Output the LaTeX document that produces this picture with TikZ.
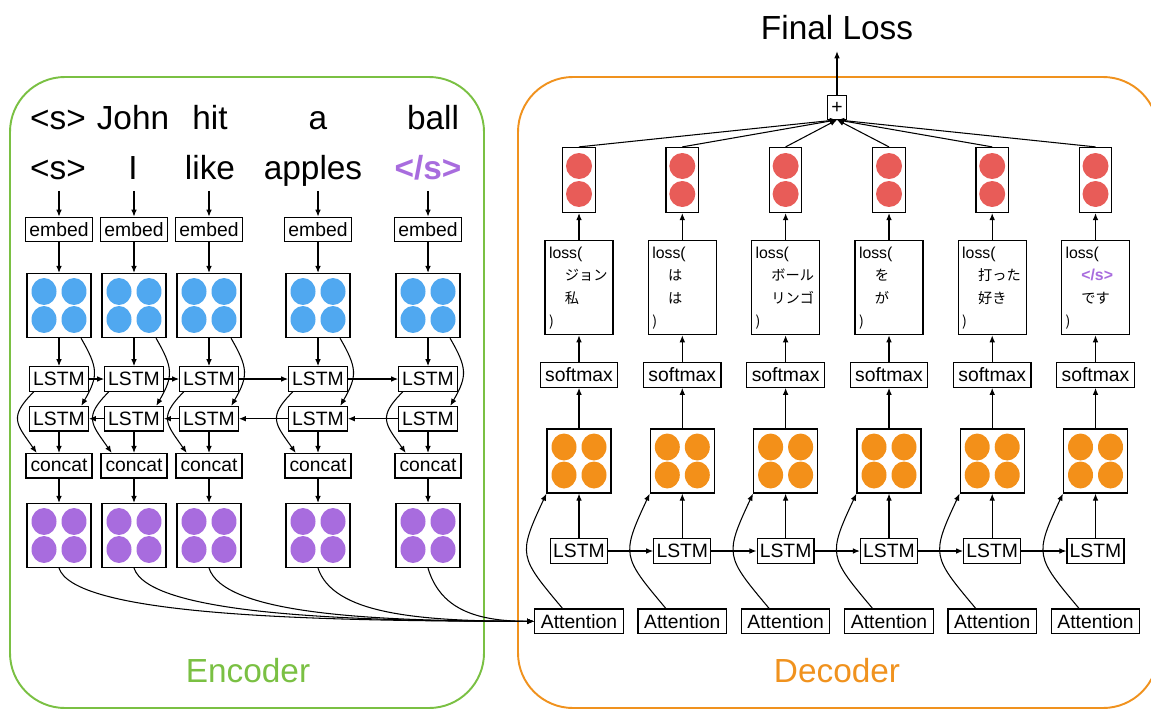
\documentclass[tikz,border=0pt]{standalone}
\usepackage{fontspec}
\setmainfont{Liberation Sans}
\newfontfamily\jpfont[Scale=0.9]{Noto Sans CJK JP}
\usetikzlibrary{arrows.meta}
\definecolor{enccol}{RGB}{122,192,67}
\definecolor{deccol}{RGB}{240,146,30}
\definecolor{purp}{RGB}{168,108,222}
\definecolor{bluedot}{RGB}{80,168,240}
\definecolor{orangedot}{RGB}{243,144,25}
\definecolor{reddot}{RGB}{232,92,88}
\newcommand{\losstext}[2]{loss(\\\hspace*{9pt}#1\\\hspace*{9pt}#2\\)}
\tikzset{
  word/.style={font=\fontsize{19}{22}\selectfont, inner sep=0pt, anchor=base, text depth=6.5pt},
  blk/.style={draw, line width=0.7pt, inner sep=1pt, font=\fontsize{11}{13}\selectfont,
    minimum height=0.49cm, minimum width=#1},
  blk/.default=1cm,
  quad/.style={draw, line width=0.7pt, minimum width=1.28cm, minimum height=1.28cm,
    path picture={
      \fill[#1] ([shift={(-0.3cm,0.28cm)}]path picture bounding box.center) ellipse [x radius=0.25cm, y radius=0.27cm];
      \fill[#1] ([shift={(0.3cm,0.28cm)}]path picture bounding box.center) ellipse [x radius=0.25cm, y radius=0.27cm];
      \fill[#1] ([shift={(-0.3cm,-0.28cm)}]path picture bounding box.center) ellipse [x radius=0.25cm, y radius=0.27cm];
      \fill[#1] ([shift={(0.3cm,-0.28cm)}]path picture bounding box.center) ellipse [x radius=0.25cm, y radius=0.27cm];}},
  pair/.style={draw, line width=0.7pt, minimum width=0.65cm, minimum height=1.3cm,
    path picture={
      \fill[reddot] ([yshift=0.28cm]path picture bounding box.center) circle [radius=0.26cm];
      \fill[reddot] ([yshift=-0.28cm]path picture bounding box.center) circle [radius=0.26cm];}},
  lossbox/.style={draw, line width=0.7pt, align=left, text width=1.2cm, inner xsep=0.08cm,
    minimum height=1.8cm, font=\fontsize{9}{12.9}\selectfont},
}
\begin{document}
\begin{tikzpicture}[x=0.02cm, y=0.02cm, >={Latex[length=4pt,width=3.2pt]}, line width=0.6pt]
  \useasboundingbox (0,0) rectangle (1151,-710);
  % frames
  \draw[enccol, line width=1.1pt, rounded corners=1.1cm] (10,-77) rectangle (484,-708);
  \draw[deccol, line width=1.1pt, rounded corners=1.1cm] (518,-77) rectangle (1158,-708);
  \draw
    (248,-682.7) node[word, text=enccol] (enc) {Encoder}
    (837,-682.7) node[word, text=deccol] (dec) {Decoder}
    (837,-39.3) node[word] (final) {Final Loss};
  % encoder
  \draw
    (58,-129) node[word] (wa1) {<s>}
    (133,-129) node[word] (wa2) {John}
    (210,-129) node[word] (wa3) {hit}
    (318,-129) node[word] (wa4) {a}
    (433,-129) node[word] (wa5) {ball}
    (58,-179) node[word] (wb1) {<s>}
    (133,-179) node[word] (wb2) {I}
    (210,-179) node[word] (wb3) {like}
    (313,-179) node[word] (wb4) {apples}
    (428,-179) node[word, text=purp, font=\fontsize{19}{22}\selectfont\bfseries] (wb5) {</s>};
  \draw
    (59,-229.5) node[blk=1.33cm] (emb1) {embed}
    (134,-229.5) node[blk=1.33cm] (emb2) {embed}
    (209,-229.5) node[blk=1.33cm] (emb3) {embed}
    (318,-229.5) node[blk=1.33cm] (emb4) {embed}
    (428,-229.5) node[blk=1.33cm] (emb5) {embed}
    (59,-305.5) node[quad=bluedot] (vec1) {}
    (134,-305.5) node[quad=bluedot] (vec2) {}
    (209,-305.5) node[quad=bluedot] (vec3) {}
    (318,-305.5) node[quad=bluedot] (vec4) {}
    (428,-305.5) node[quad=bluedot] (vec5) {}
    (59,-379) node[blk=1.17cm] (fw1) {LSTM}
    (134,-379) node[blk=1.17cm] (fw2) {LSTM}
    (209,-379) node[blk=1.17cm] (fw3) {LSTM}
    (318,-379) node[blk=1.17cm] (fw4) {LSTM}
    (428,-379) node[blk=1.17cm] (fw5) {LSTM}
    (59,-418.7) node[blk=1.17cm] (bw1) {LSTM}
    (134,-418.7) node[blk=1.17cm] (bw2) {LSTM}
    (209,-418.7) node[blk=1.17cm] (bw3) {LSTM}
    (318,-418.7) node[blk=1.17cm] (bw4) {LSTM}
    (428,-418.7) node[blk=1.17cm] (bw5) {LSTM}
    (59,-465.8) node[blk=1.32cm] (cat1) {concat}
    (134,-465.8) node[blk=1.32cm] (cat2) {concat}
    (209,-465.8) node[blk=1.32cm] (cat3) {concat}
    (318,-465.8) node[blk=1.32cm] (cat4) {concat}
    (428,-465.8) node[blk=1.32cm] (cat5) {concat}
    (59,-535.5) node[quad=purp] (hid1) {}
    (134,-535.5) node[quad=purp] (hid2) {}
    (209,-535.5) node[quad=purp] (hid3) {}
    (318,-535.5) node[quad=purp] (hid4) {}
    (428,-535.5) node[quad=purp] (hid5) {};
  % decoder
  \draw
    (837,-107.5) node[blk=0.38cm, minimum height=0.47cm, inner sep=0pt] (plus) {+}
    (579,-180) node[pair] (prob1) {}
    (682.3,-180) node[pair] (prob2) {}
    (785.6,-180) node[pair] (prob3) {}
    (889,-180) node[pair] (prob4) {}
    (992.2,-180) node[pair] (prob5) {}
    (1095.5,-180) node[pair] (prob6) {}
    (579,-287.7) node[lossbox] (loss1) {\losstext{\jpfont ジョン}{\jpfont 私}}
    (682.3,-287.7) node[lossbox] (loss2) {\losstext{\jpfont は}{\jpfont は}}
    (785.6,-287.7) node[lossbox] (loss3) {\losstext{\jpfont ボール}{\jpfont リンゴ}}
    (889,-287.7) node[lossbox] (loss4) {\losstext{\jpfont を}{\jpfont が}}
    (992.2,-287.7) node[lossbox] (loss5) {\losstext{\jpfont 打った}{\jpfont 好き}}
    (1095.5,-287.7) node[lossbox] (loss6) {\losstext{\textcolor{purp}{\bfseries </s>}}{\jpfont です}}
    (579,-375) node[blk=1.55cm] (sm1) {softmax}
    (682.3,-375) node[blk=1.55cm] (sm2) {softmax}
    (785.6,-375) node[blk=1.55cm] (sm3) {softmax}
    (889,-375) node[blk=1.55cm] (sm4) {softmax}
    (992.2,-375) node[blk=1.55cm] (sm5) {softmax}
    (1095.5,-375) node[blk=1.55cm] (sm6) {softmax}
    (579,-461) node[quad=orangedot] (out1) {}
    (682.3,-461) node[quad=orangedot] (out2) {}
    (785.6,-461) node[quad=orangedot] (out3) {}
    (889,-461) node[quad=orangedot] (out4) {}
    (992.2,-461) node[quad=orangedot] (out5) {}
    (1095.5,-461) node[quad=orangedot] (out6) {}
    (579,-551) node[blk=1.14cm] (dl1) {LSTM}
    (682.3,-551) node[blk=1.14cm] (dl2) {LSTM}
    (785.6,-551) node[blk=1.14cm] (dl3) {LSTM}
    (889,-551) node[blk=1.14cm] (dl4) {LSTM}
    (992.2,-551) node[blk=1.14cm] (dl5) {LSTM}
    (1095.5,-551) node[blk=1.14cm] (dl6) {LSTM}
    (579,-621.3) node[blk=1.77cm] (att1) {Attention}
    (682.3,-621.3) node[blk=1.77cm] (att2) {Attention}
    (785.6,-621.3) node[blk=1.77cm] (att3) {Attention}
    (889,-621.3) node[blk=1.77cm] (att4) {Attention}
    (992.2,-621.3) node[blk=1.77cm] (att5) {Attention}
    (1095.5,-621.3) node[blk=1.77cm] (att6) {Attention};
  \begin{scope}[->]
    \draw (wb1.south -| emb1) to (emb1);
    \draw (wb2.south -| emb2) to (emb2);
    \draw (wb3.south -| emb3) to (emb3);
    \draw (wb4.south -| emb4) to (emb4);
    \draw (wb5.south -| emb5) to (emb5);
    \draw (emb1) to (vec1);
    \draw (emb2) to (vec2);
    \draw (emb3) to (vec3);
    \draw (emb4) to (vec4);
    \draw (emb5) to (vec5);
    \draw (vec1) to (fw1);
    \draw (vec2) to (fw2);
    \draw (vec3) to (fw3);
    \draw (vec4) to (fw4);
    \draw (vec5) to (fw5);
    \draw (vec1.-56) to[out=-60, in=60, looseness=1.3] (bw1.30);
    \draw (vec2.-56) to[out=-60, in=60, looseness=1.3] (bw2.30);
    \draw (vec3.-56) to[out=-60, in=60, looseness=1.3] (bw3.30);
    \draw (vec4.-56) to[out=-60, in=60, looseness=1.3] (bw4.30);
    \draw (vec5.-56) to[out=-60, in=60, looseness=1.3] (bw5.30);
    \draw (fw1) to (fw2);
    \draw (fw2) to (fw3);
    \draw (fw3) to (fw4);
    \draw (fw4) to (fw5);
    \draw (bw5) to (bw4);
    \draw (bw4) to (bw3);
    \draw (bw3) to (bw2);
    \draw (bw2) to (bw1);
    \draw (fw1.207) to[out=-135, in=125, looseness=1.5] (cat1.150);
    \draw (fw2.207) to[out=-135, in=125, looseness=1.5] (cat2.150);
    \draw (fw3.207) to[out=-135, in=125, looseness=1.5] (cat3.150);
    \draw (fw4.207) to[out=-135, in=125, looseness=1.5] (cat4.150);
    \draw (fw5.207) to[out=-135, in=125, looseness=1.5] (cat5.150);
    \draw (bw1) to (cat1);
    \draw (bw2) to (cat2);
    \draw (bw3) to (cat3);
    \draw (bw4) to (cat4);
    \draw (bw5) to (cat5);
    \draw (cat1) to (hid1);
    \draw (cat2) to (hid2);
    \draw (cat3) to (hid3);
    \draw (cat4) to (hid4);
    \draw (cat5) to (hid5);
    \draw (hid1.south) .. controls +(15,-45) and +(-250,0) .. (att1.west);
    \draw (hid2.south) .. controls +(15,-45) and +(-200,0) .. (att1.west);
    \draw (hid3.south) .. controls +(15,-45) and +(-170,0) .. (att1.west);
    \draw (hid4.south) .. controls +(15,-45) and +(-120,0) .. (att1.west);
    \draw (hid5.south) .. controls +(12,-40) and +(-60,0) .. (att1.west);
    \draw (att1.142) to[out=130, in=-115, looseness=1.5] (out1.south west);
    \draw (att2.142) to[out=130, in=-115, looseness=1.5] (out2.south west);
    \draw (att3.142) to[out=130, in=-115, looseness=1.5] (out3.south west);
    \draw (att4.142) to[out=130, in=-115, looseness=1.5] (out4.south west);
    \draw (att5.142) to[out=130, in=-115, looseness=1.5] (out5.south west);
    \draw (att6.142) to[out=130, in=-115, looseness=1.5] (out6.south west);
    \draw (dl1) to (dl2);
    \draw (dl2) to (dl3);
    \draw (dl3) to (dl4);
    \draw (dl4) to (dl5);
    \draw (dl5) to (dl6);
    \draw (dl1) to (out1);
    \draw (dl2) to (out2);
    \draw (dl3) to (out3);
    \draw (dl4) to (out4);
    \draw (dl5) to (out5);
    \draw (dl6) to (out6);
    \draw (out1) to (sm1);
    \draw (out2) to (sm2);
    \draw (out3) to (sm3);
    \draw (out4) to (sm4);
    \draw (out5) to (sm5);
    \draw (out6) to (sm6);
    \draw (sm1) to (loss1);
    \draw (sm2) to (loss2);
    \draw (sm3) to (loss3);
    \draw (sm4) to (loss4);
    \draw (sm5) to (loss5);
    \draw (sm6) to (loss6);
    \draw (loss1) to (prob1);
    \draw (loss2) to (prob2);
    \draw (loss3) to (prob3);
    \draw (loss4) to (prob4);
    \draw (loss5) to (prob5);
    \draw (loss6) to (prob6);
    \draw (prob1.north) to (plus.south);
    \draw (prob2.north) to (plus.south);
    \draw (prob3.north) to (plus.south);
    \draw (prob4.north) to (plus.south);
    \draw (prob5.north) to (plus.south);
    \draw (prob6.north) to (plus.south);
    \draw (plus) to (final);
  \end{scope}
\end{tikzpicture}
\end{document}
